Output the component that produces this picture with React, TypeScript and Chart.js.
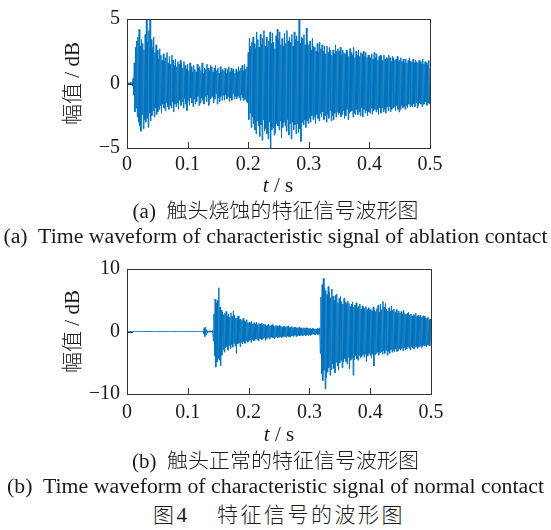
import React, { useEffect, useRef } from 'react';
import { Chart, registerables } from 'chart.js';
Chart.register(...registerables);

// sampling interval of the waveform series (s)
const DT = 0.001;

const X_TICKS = [0, 0.1, 0.2, 0.3, 0.4, 0.5];
const X_TICK_LABELS = ['0', '0.1', '0.2', '0.3', '0.4', '0.5'];
const Y_TICKS_A = [-5, 0, 5];
const Y_TICK_LABELS_A = ['\u22125', '0', '5'];
const Y_TICKS_B = [-10, 0, 10];
const Y_TICK_LABELS_B = ['\u221210', '0', '10'];

// (a) ablation contact, amplitude in dB, one value every DT seconds from 0 to 0.5 s
const ABLATION = [
  0, 0, 0.05, -0.05, 0.05, -0.05, 0.1, -0.1, 0.1, -0.2,
  0.4, -0.9, 1.6, -2.2, 2.8, -1.9, 3.3, -2.6, 3.6, -3.0,
  4.2, -3.3, 2.9, -3.7, 3.4, -2.4, 3.1, -3.5, 2.6, -2.8,
  3.8, -3.0, 5.0, -2.7, 3.2, -3.4, 4.1, -2.3, 5.0, -2.9,
  3.4, -2.5, 2.8, -2.1, 3.6, -2.6, 2.4, -1.9, 3.0, -2.4,
  2.6, -2.2, 1.9, -2.0, 2.7, -1.7, 2.2, -2.3, 1.8, -1.6,
  2.3, -1.9, 1.7, -2.1, 2.0, -1.5, 2.4, -1.8, 1.6, -2.0,
  2.1, -1.7, 1.5, -1.9, 2.2, -1.4, 1.8, -2.2, 1.4, -1.6,
  1.9, -1.8, 1.3, -1.5, 1.7, -2.0, 1.5, -1.3, 1.8, -1.7,
  1.6, -1.4, 1.2, -1.9, 1.7, -1.2, 1.4, -1.6, 1.1, -2.1,
  1.5, -1.3, 1.0, -1.7, 1.6, -1.1, 1.3, -1.5, 0.9, -1.8,
  1.4, -1.2, 1.1, -1.6, 0.9, -1.4, 1.5, -1.0, 1.2, -1.7,
  1.3, -1.5, 1.0, -1.1, 1.6, -1.3, 0.8, -1.6, 1.2, -1.0,
  1.1, -1.4, 1.5, -0.9, 1.2, -1.7, 1.0, -1.2, 1.4, -1.1,
  1.3, -1.0, 0.9, -1.5, 1.2, -1.2, 1.4, -0.8, 1.0, -1.6,
  1.2, -1.1, 0.8, -1.4, 1.3, -1.0, 0.9, -1.3, 1.1, -0.9,
  1.0, -1.3, 1.2, -0.9, 0.8, -1.2, 1.1, -1.0, 1.3, -1.4,
  0.9, -1.1, 1.2, -1.3, 1.0, -0.8, 1.1, -1.2, 0.8, -1.0,
  1.1, -1.2, 0.9, -1.0, 1.3, -1.1, 1.0, -1.3, 1.2, -0.9,
  1.4, -1.1, 1.0, -1.3, 1.5, -1.2, 1.1, -1.4, 1.3, -1.5,
  2.4, -2.8, 3.5, -2.3, 2.9, -3.4, 3.2, -2.6, 3.6, -3.1,
  3.1, -3.6, 2.7, -3.9, 4.0, -2.9, 3.4, -3.3, 2.8, -4.1,
  3.8, -3.2, 3.0, -4.4, 3.5, -2.8, 4.1, -3.7, 2.9, -3.5,
  3.6, -3.9, 2.8, -4.3, 3.3, -3.0, 4.0, -5.0, 3.1, -3.6,
  3.9, -3.4, 3.2, -4.0, 2.7, -3.8, 3.7, -3.1, 4.2, -3.3,
  3.4, -3.6, 4.0, -2.9, 3.0, -4.2, 3.5, -3.4, 2.9, -3.0,
  3.9, -3.3, 3.1, -3.7, 4.1, -2.8, 3.3, -4.0, 3.6, -3.1,
  3.2, -4.3, 3.8, -3.0, 2.9, -3.6, 4.0, -3.2, 3.4, -3.9,
  3.7, -3.1, 3.3, -3.8, 5.0, -3.5, 3.1, -4.5, 3.6, -3.0,
  3.5, -3.2, 3.8, -2.8, 3.0, -3.4, 4.3, -2.9, 3.2, -3.1,
  3.0, -2.7, 3.3, -3.0, 2.6, -2.5, 3.5, -2.8, 2.9, -2.6,
  2.8, -3.1, 2.5, -2.4, 3.1, -2.7, 2.4, -2.9, 3.2, -2.3,
  2.7, -2.6, 3.0, -2.2, 2.5, -2.8, 2.9, -2.5, 2.3, -3.0,
  2.9, -2.4, 2.4, -2.7, 2.8, -2.1, 2.6, -2.9, 2.2, -2.5,
  2.6, -2.8, 2.3, -2.3, 3.0, -2.6, 2.5, -2.2, 2.7, -2.4,
  2.5, -2.3, 2.8, -2.6, 2.2, -2.4, 2.6, -2.1, 2.4, -2.7,
  2.3, -2.5, 2.6, -2.0, 2.4, -2.8, 2.1, -2.3, 2.7, -2.2,
  2.4, -2.1, 2.2, -2.6, 2.8, -2.3, 2.0, -2.4, 2.5, -2.0,
  2.2, -2.4, 2.6, -2.2, 2.1, -2.5, 2.4, -1.9, 2.3, -2.6,
  2.5, -2.0, 2.1, -2.3, 2.4, -2.1, 2.0, -2.5, 2.2, -2.2,
  2.2, -2.3, 2.0, -1.9, 2.3, -2.4, 1.9, -2.1, 2.4, -2.0,
  2.0, -2.2, 2.3, -2.0, 1.8, -2.4, 2.1, -1.9, 2.2, -2.3,
  2.1, -1.9, 1.8, -2.2, 2.2, -2.0, 1.9, -2.3, 2.0, -1.8,
  1.9, -2.1, 2.2, -1.8, 2.0, -2.2, 1.7, -2.0, 2.1, -1.9,
  2.0, -1.8, 1.8, -2.1, 1.9, -1.7, 2.1, -2.0, 1.7, -2.2,
  1.8, -2.0, 2.0, -1.7, 1.7, -1.9, 1.9, -1.8, 1.6, -2.0,
  1.9, -1.7, 1.6, -1.9, 1.8, -1.6, 2.0, -1.8, 1.7, -1.7,
  1.7, -1.8, 1.9, -1.6, 1.6, -1.8, 1.8, -1.5, 1.7, -1.9,
  1.6, -1.7, 1.8, -1.5, 1.7, -1.6, 1.5, -1.8, 1.9, -1.6,
  1.5, -1.6, 1.7, -1.4, 1.6, -1.7, 1.4, -1.5, 1.8, -1.6,
  1.2,
];

// (b) normal contact, amplitude in dB, one value every DT seconds from 0 to 0.5 s
const NORMAL = [
  0, 0, 0, 0, 0, 0, 0, 0, 0, 0,
  0, 0, 0, 0, 0, 0, 0, 0, 0, 0,
  0, 0, 0, 0, 0, 0, 0, 0, 0, 0,
  0, 0, 0, 0, 0, 0, 0, 0, 0, 0,
  0, 0, 0, 0, 0, 0, 0, 0, 0, 0,
  0, 0, 0, 0, 0, 0, 0, 0, 0, 0,
  0, 0, 0, 0, 0, 0, 0, 0, 0, 0,
  0, 0, 0, 0, 0, 0, 0, 0, 0, 0,
  0, 0, 0, 0, 0, 0, 0, 0, 0, 0,
  0, 0, 0, 0, 0, 0, 0, 0, 0, 0,
  0, 0, 0, 0, 0, 0, 0, 0, 0, 0,
  0, 0, 0, 0, 0, 0, 0, 0, 0, 0,
  0, 0, 0, 0, 0, 0.1, -0.3, 0.6, -0.8, 0.7,
  -0.5, 0.3, -0.2, 0.1, -0.1, 0.1, -0.1, 0.1, -0.1, 0.1,
  -0.1, 0.2, -1.5, 2.8, -3.9, 5.2, -5.7, 4.6, -4.9, 5.0,
  -4.3, 7.0, -4.6, 3.9, -5.5, 3.4, -3.8, 3.1, -2.9, 2.7,
  -3.3, 2.9, -2.6, 3.2, -2.4, 2.5, -3.0, 2.8, -2.2, 2.3,
  -2.7, 3.0, -2.1, 2.4, -2.5, 3.3, -1.9, 2.6, -2.3, 2.1,
  -3.5, 2.2, -2.0, 2.5, -1.8, 1.9, -2.4, 2.0, -1.7, 1.8,
  -2.0, 2.1, -1.6, 1.7, -1.9, 1.5, -1.5, 1.9, -1.7, 1.4,
  -1.6, 1.5, -1.4, 1.3, -1.7, 1.6, -1.3, 1.2, -1.5, 1.4,
  -1.4, 1.2, -1.2, 1.5, -1.3, 1.1, -1.5, 1.3, -1.1, 1.2,
  -1.2, 1.3, -1.3, 1.0, -1.1, 1.2, -1.0, 1.1, -1.4, 0.9,
  -1.1, 1.0, -0.9, 1.2, -1.2, 0.9, -1.0, 1.0, -0.9, 1.1,
  -1.0, 0.9, -1.1, 0.8, -0.9, 1.0, -0.8, 0.9, -1.0, 0.8,
  -0.9, 1.0, -0.8, 0.9, -1.0, 0.7, -0.9, 0.8, -0.8, 0.9,
  -0.8, 0.7, -0.9, 0.8, -0.7, 0.9, -0.8, 0.6, -0.9, 0.7,
  -0.7, 0.8, -0.7, 0.6, -0.8, 0.7, -0.6, 0.7, -0.8, 0.6,
  -0.7, 0.6, -0.6, 0.7, -0.7, 0.5, -0.6, 0.6, -0.7, 0.5,
  -0.6, 0.6, -0.5, 0.5, -0.7, 0.6, -0.5, 0.5, -0.6, 0.5,
  -0.5, 0.5, -0.6, 0.4, -0.5, 0.5, -0.4, 0.5, -0.5, 0.4,
  -0.5, 0.4, -0.4, 0.5, -0.5, 0.4, -0.4, 0.6, -3.5, 5.5,
  -6.8, 7.5, -7.9, 8.5, -6.2, 7.0, -9.2, 6.6, -7.4, 5.9,
  -6.5, 7.2, -5.8, 6.3, -7.0, 5.4, -6.1, 6.8, -5.2, 5.7,
  -5.9, 5.0, -6.6, 5.8, -4.9, 6.0, -5.5, 4.6, -6.2, 5.3,
  -5.0, 5.6, -4.6, 4.8, -5.8, 4.4, -4.9, 5.3, -4.3, 4.7,
  -4.8, 4.3, -5.2, 4.9, -4.1, 4.5, -6.0, 4.0, -4.6, 4.4,
  -4.3, 4.7, -7.0, 3.9, -4.5, 4.2, -3.9, 4.6, -4.4, 3.8,
  -4.6, 4.0, -3.8, 4.4, -4.2, 3.6, -4.0, 4.1, -3.7, 3.9,
  -4.1, 3.7, -3.6, 4.0, -4.8, 3.5, -3.9, 3.8, -3.5, 3.4,
  -3.8, 3.6, -4.2, 3.3, -3.6, 3.9, -5.5, 3.4, -3.7, 3.2,
  -3.5, 3.7, -3.3, 4.2, -3.8, 3.1, -3.4, 4.4, -3.2, 3.5,
  -3.6, 4.8, -3.1, 3.9, -3.5, 4.5, -3.0, 3.6, -3.8, 3.3,
  -3.2, 3.8, -3.5, 3.2, -2.9, 4.1, -3.3, 3.4, -3.0, 3.6,
  -3.3, 3.1, -2.8, 3.5, -3.2, 2.9, -3.0, 3.3, -2.7, 3.0,
  -3.0, 3.2, -2.7, 2.8, -3.1, 3.4, -2.6, 2.9, -2.9, 2.7,
  -2.8, 2.9, -2.5, 3.1, -2.7, 2.6, -2.9, 2.8, -2.4, 2.5,
  -2.6, 2.7, -2.8, 2.5, -2.4, 2.9, -2.5, 2.4, -2.7, 2.6,
  -2.5, 2.4, -2.3, 2.6, -2.6, 2.3, -2.4, 2.5, -2.2, 2.4,
  -2.3, 2.2, -2.4, 2.1, -2.1, 2.3, -2.2, 1.9, -2.3, 2.0,
  -1.5,
];

const BLUE = '#0072BD';
const TEXT = '#1a1a1a';
const SERIF = '"Liberation Serif", "Times New Roman", "Noto Sans CJK SC", serif';

const framePlugin = {
  id: 'frame',
  afterDatasetsDraw(chart: any) {
    const { ctx, chartArea: a, scales } = chart;
    ctx.save();
    ctx.strokeStyle = '#333333';
    ctx.lineWidth = 1;
    ctx.beginPath();
    for (const v of X_TICKS) {
      const px = Math.round(scales.x.getPixelForValue(v)) + 0.5;
      ctx.moveTo(px, a.bottom);
      ctx.lineTo(px, a.bottom - 6);
    }
    for (const t of scales.y.ticks) {
      const py = Math.round(scales.y.getPixelForValue(t.value)) + 0.5;
      ctx.moveTo(a.left, py);
      ctx.lineTo(a.left + 6, py);
    }
    ctx.stroke();
    ctx.strokeRect(
      Math.round(a.left) + 0.5,
      Math.round(a.top) + 0.5,
      Math.round(a.right - a.left),
      Math.round(a.bottom - a.top)
    );
    ctx.restore();
  },
};

function makeConfig(p: any): any {
  return {
    type: 'line',
    data: {
      datasets: [
        {
          data: p.values.map((v: number, i: number) => ({ x: i * DT, y: v })),
          borderColor: BLUE,
          borderWidth: 1,
          pointRadius: 0,
          tension: 0,
          fill: false,
        },
      ],
    },
    options: {
      animation: false,
      responsive: false,
      maintainAspectRatio: false,
      layout: { padding: { left: 0, top: p.padTop, right: p.padRight, bottom: 0 } },
      plugins: { legend: { display: false }, tooltip: { enabled: false } },
      scales: {
        x: {
          type: 'linear',
          min: 0,
          max: 0.5,
          afterBuildTicks: (s: any) => {
            s.ticks = X_TICKS.map((v) => ({ value: v }));
          },
          afterFit: (s: any) => {
            s.height = p.xAxisHeight;
          },
          grid: { display: false, drawTicks: false },
          border: { display: false },
          ticks: {
            font: { family: SERIF, size: 20 },
            color: TEXT,
            padding: p.xTickPad,
            maxRotation: 0,
            autoSkip: false,
            callback: (v: number) => X_TICK_LABELS[X_TICKS.indexOf(v)],
          },
        },
        y: {
          type: 'linear',
          min: p.yMin,
          max: p.yMax,
          afterBuildTicks: (s: any) => {
            s.ticks = p.yTicks.map((v: number) => ({ value: v }));
          },
          afterFit: (s: any) => {
            s.width = 127;
          },
          grid: { display: false, drawTicks: false },
          border: { display: false },
          ticks: {
            font: { family: SERIF, size: 20 },
            color: TEXT,
            padding: 7,
            autoSkip: false,
            callback: (v: number) => p.yLabels[p.yTicks.indexOf(v)],
          },
          title: {
            display: true,
            text: '幅值 / dB',
            font: { family: SERIF, size: 21, weight: 300 },
            color: TEXT,
            padding: { top: 61, bottom: 0 },
          },
        },
      },
    },
    plugins: [framePlugin],
  };
}

function WaveChart(props: any) {
  const ref = useRef<HTMLCanvasElement>(null);
  useEffect(() => {
    if (!ref.current) return;
    const chart = new Chart(ref.current, makeConfig(props));
    return () => chart.destroy();
  }, []);
  return (
    <canvas
      ref={ref}
      width={551}
      height={props.height}
      style={{ position: 'absolute', left: 0, top: props.top, width: 551, height: props.height }}
    />
  );
}

function Caption(props: { cy: number; size: number; sx: number; children: React.ReactNode }) {
  return (
    <div
      style={{
        position: 'absolute',
        left: 0,
        width: 551,
        top: props.cy - 12,
        height: 24,
        lineHeight: '24px',
        fontSize: props.size,
        fontWeight: 300,
        fontFamily: SERIF,
        color: TEXT,
        textAlign: 'center',
        whiteSpace: 'pre',
        transform: `scaleX(${props.sx})`,
        transformOrigin: '275.5px 12px',
      }}
    >
      {props.children}
    </div>
  );
}

function AxisTitle(props: { cy: number; cx: number }) {
  return (
    <div
      style={{
        position: 'absolute',
        left: props.cx - 50,
        width: 100,
        top: props.cy - 12,
        height: 24,
        lineHeight: '24px',
        fontSize: 21,
        fontFamily: SERIF,
        color: TEXT,
        textAlign: 'center',
        whiteSpace: 'pre',
      }}
    >
      <i>t</i>
      {' / s'}
    </div>
  );
}

function Piece(props: { left: number; cy: number; children: React.ReactNode }) {
  return (
    <span
      style={{
        position: 'absolute',
        left: props.left,
        top: props.cy - 12,
        height: 24,
        lineHeight: '24px',
        fontSize: 21,
        fontWeight: 300,
        letterSpacing: 2.5,
        fontFamily: SERIF,
        color: TEXT,
        whiteSpace: 'pre',
      }}
    >
      {props.children}
    </span>
  );
}

export default function App() {
  return (
    <div
      style={{
        position: 'absolute',
        left: 0,
        top: 0,
        width: 551,
        height: 530,
        background: '#ffffff',
        overflow: 'hidden',
      }}
    >
      <WaveChart
        top={0}
        height={200}
        values={ABLATION}
        yMin={-5}
        yMax={5}
        yTicks={Y_TICKS_A}
        yLabels={Y_TICK_LABELS_A}
        padTop={15}
        padRight={121}
        xAxisHeight={52}
        xTickPad={5}
      />
      <AxisTitle cx={278} cy={185} />
      <Caption cy={211} size={20} sx={1.05}>{'(a)  触头烧蚀的特征信号波形图'}</Caption>
      <Caption cy={236} size={20} sx={1.09}>{'(a)  Time waveform of characteristic signal of ablation contact'}</Caption>

      <WaveChart
        top={250}
        height={200}
        values={NORMAL}
        yMin={-10}
        yMax={10}
        yTicks={Y_TICKS_B}
        yLabels={Y_TICK_LABELS_B}
        padTop={13}
        padRight={120}
        xAxisHeight={56}
        xTickPad={7}
      />
      <AxisTitle cx={279} cy={434} />
      <Caption cy={461} size={20} sx={1.05}>{'(b)  触头正常的特征信号波形图'}</Caption>
      <Caption cy={486} size={20} sx={1.09}>{'(b)  Time waveform of characteristic signal of normal contact'}</Caption>
      <Piece left={153} cy={515}>{'图4'}</Piece>
      <Piece left={217} cy={515}>{'特征信号的波形图'}</Piece>
    </div>
  );
}
